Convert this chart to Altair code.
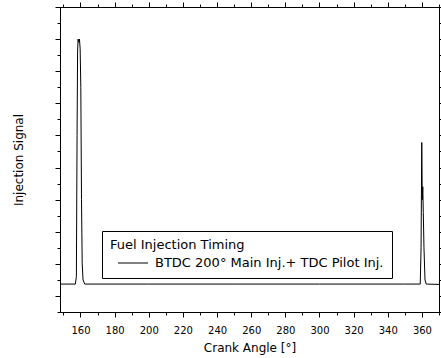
import altair as alt
import pandas as pd

crank_angle = [148, 155, 157.0, 157.6, 158.0, 158.3, 158.6, 159.0, 159.4, 159.8, 160.2, 160.6, 161.0, 161.5, 162.5,
               200, 250, 300, 350, 359.0, 359.5, 359.9, 360.2, 360.5, 360.8, 361.2, 361.8, 362.5, 370]
signal = [0.37, 0.37, 0.37, 0.6, 5.0, 7.6, 8.0, 7.9, 8.0, 7.7, 6.5, 3.0, 1.0, 0.5, 0.37,
          0.37, 0.37, 0.37, 0.37, 0.37, 1.5, 4.78, 3.0, 3.4, 2.6, 1.5, 0.5, 0.37, 0.36]
series_name = "BTDC 200\u00b0 Main Inj.+ TDC Pilot Inj."
legend_title = "Fuel Injection Timing"
x_ticks = list(range(150, 371, 10))
y_ticks = [v / 2 for v in range(-1, 19)]

df = pd.DataFrame({"angle": crank_angle, "signal": signal, "series": series_name})

FONT = "DejaVu Sans"
xscale = alt.Scale(domain=[148, 370], nice=False, zero=False)
yscale = alt.Scale(domain=[-0.5, 9], nice=False, zero=False)

xtick_size = {"condition": {"test": "datum.value % 20 === 0", "value": 5}, "value": 3}
ytick_size = {"condition": {"test": "datum.value % 1 === 0", "value": 5}, "value": 3}

base = alt.Chart(df)

main = base.mark_line(strokeWidth=1, interpolate="linear").encode(
    x=alt.X("angle:Q", scale=xscale,
            axis=alt.Axis(title="Crank Angle [\u00b0]", values=x_ticks,
                          labelExpr="datum.value % 20 === 0 ? datum.label : ''",
                          tickSize=xtick_size, grid=False, domainColor="black", tickColor="black",
                          labelFont=FONT, labelFontSize=10, labelColor="black",
                          titleFont=FONT, titleFontSize=12, titleFontWeight="normal", titleColor="black",
                          labelPadding=8, titlePadding=7, labelFlush=False)),
    y=alt.Y("signal:Q", scale=yscale,
            axis=alt.Axis(title="Injection Signal", values=y_ticks, labels=False,
                          tickSize=ytick_size, grid=False, domainColor="black", tickColor="black",
                          titleFont=FONT, titleFontSize=12, titleFontWeight="normal", titleColor="black",
                          titlePadding=29)),
    color=alt.Color("series:N", scale=alt.Scale(range=["black"]),
                    legend=alt.Legend(title=legend_title, orient="none", legendX=42, legendY=224,
                                      symbolType="M-2,0H2", symbolSize=225, symbolStrokeWidth=1,
                                      strokeColor="black", padding=8, fillColor="white",
                                      titleFont=FONT, titleFontSize=13, titleFontWeight="normal",
                                      titleColor="black", labelFont=FONT, labelFontSize=13,
                                      labelColor="black", labelLimit=400, titlePadding=3,
                                      symbolOffset=15, labelOffset=14)),
)

mirror = base.mark_line(strokeWidth=0, opacity=0).encode(
    x=alt.X("angle:Q", scale=xscale,
            axis=alt.Axis(orient="top", title=None, values=x_ticks, labels=False,
                          tickSize=xtick_size, grid=False, domainColor="black", tickColor="black")),
    y=alt.Y("signal:Q", scale=yscale,
            axis=alt.Axis(orient="right", title=None, values=y_ticks, labels=False,
                          tickSize=ytick_size, grid=False, domainColor="black", tickColor="black")),
)

chart = alt.layer(main, mirror).resolve_axis(x="independent", y="independent").properties(
    width=379, height=305,
    autosize=alt.AutoSizeParams(type="none"),
    padding={"left": 60, "top": 7, "right": 2, "bottom": 46},
    background="white",
).configure_view(stroke="black", strokeWidth=1)

chart.save("out.html", embed_options={"renderer": "svg", "actions": False})
